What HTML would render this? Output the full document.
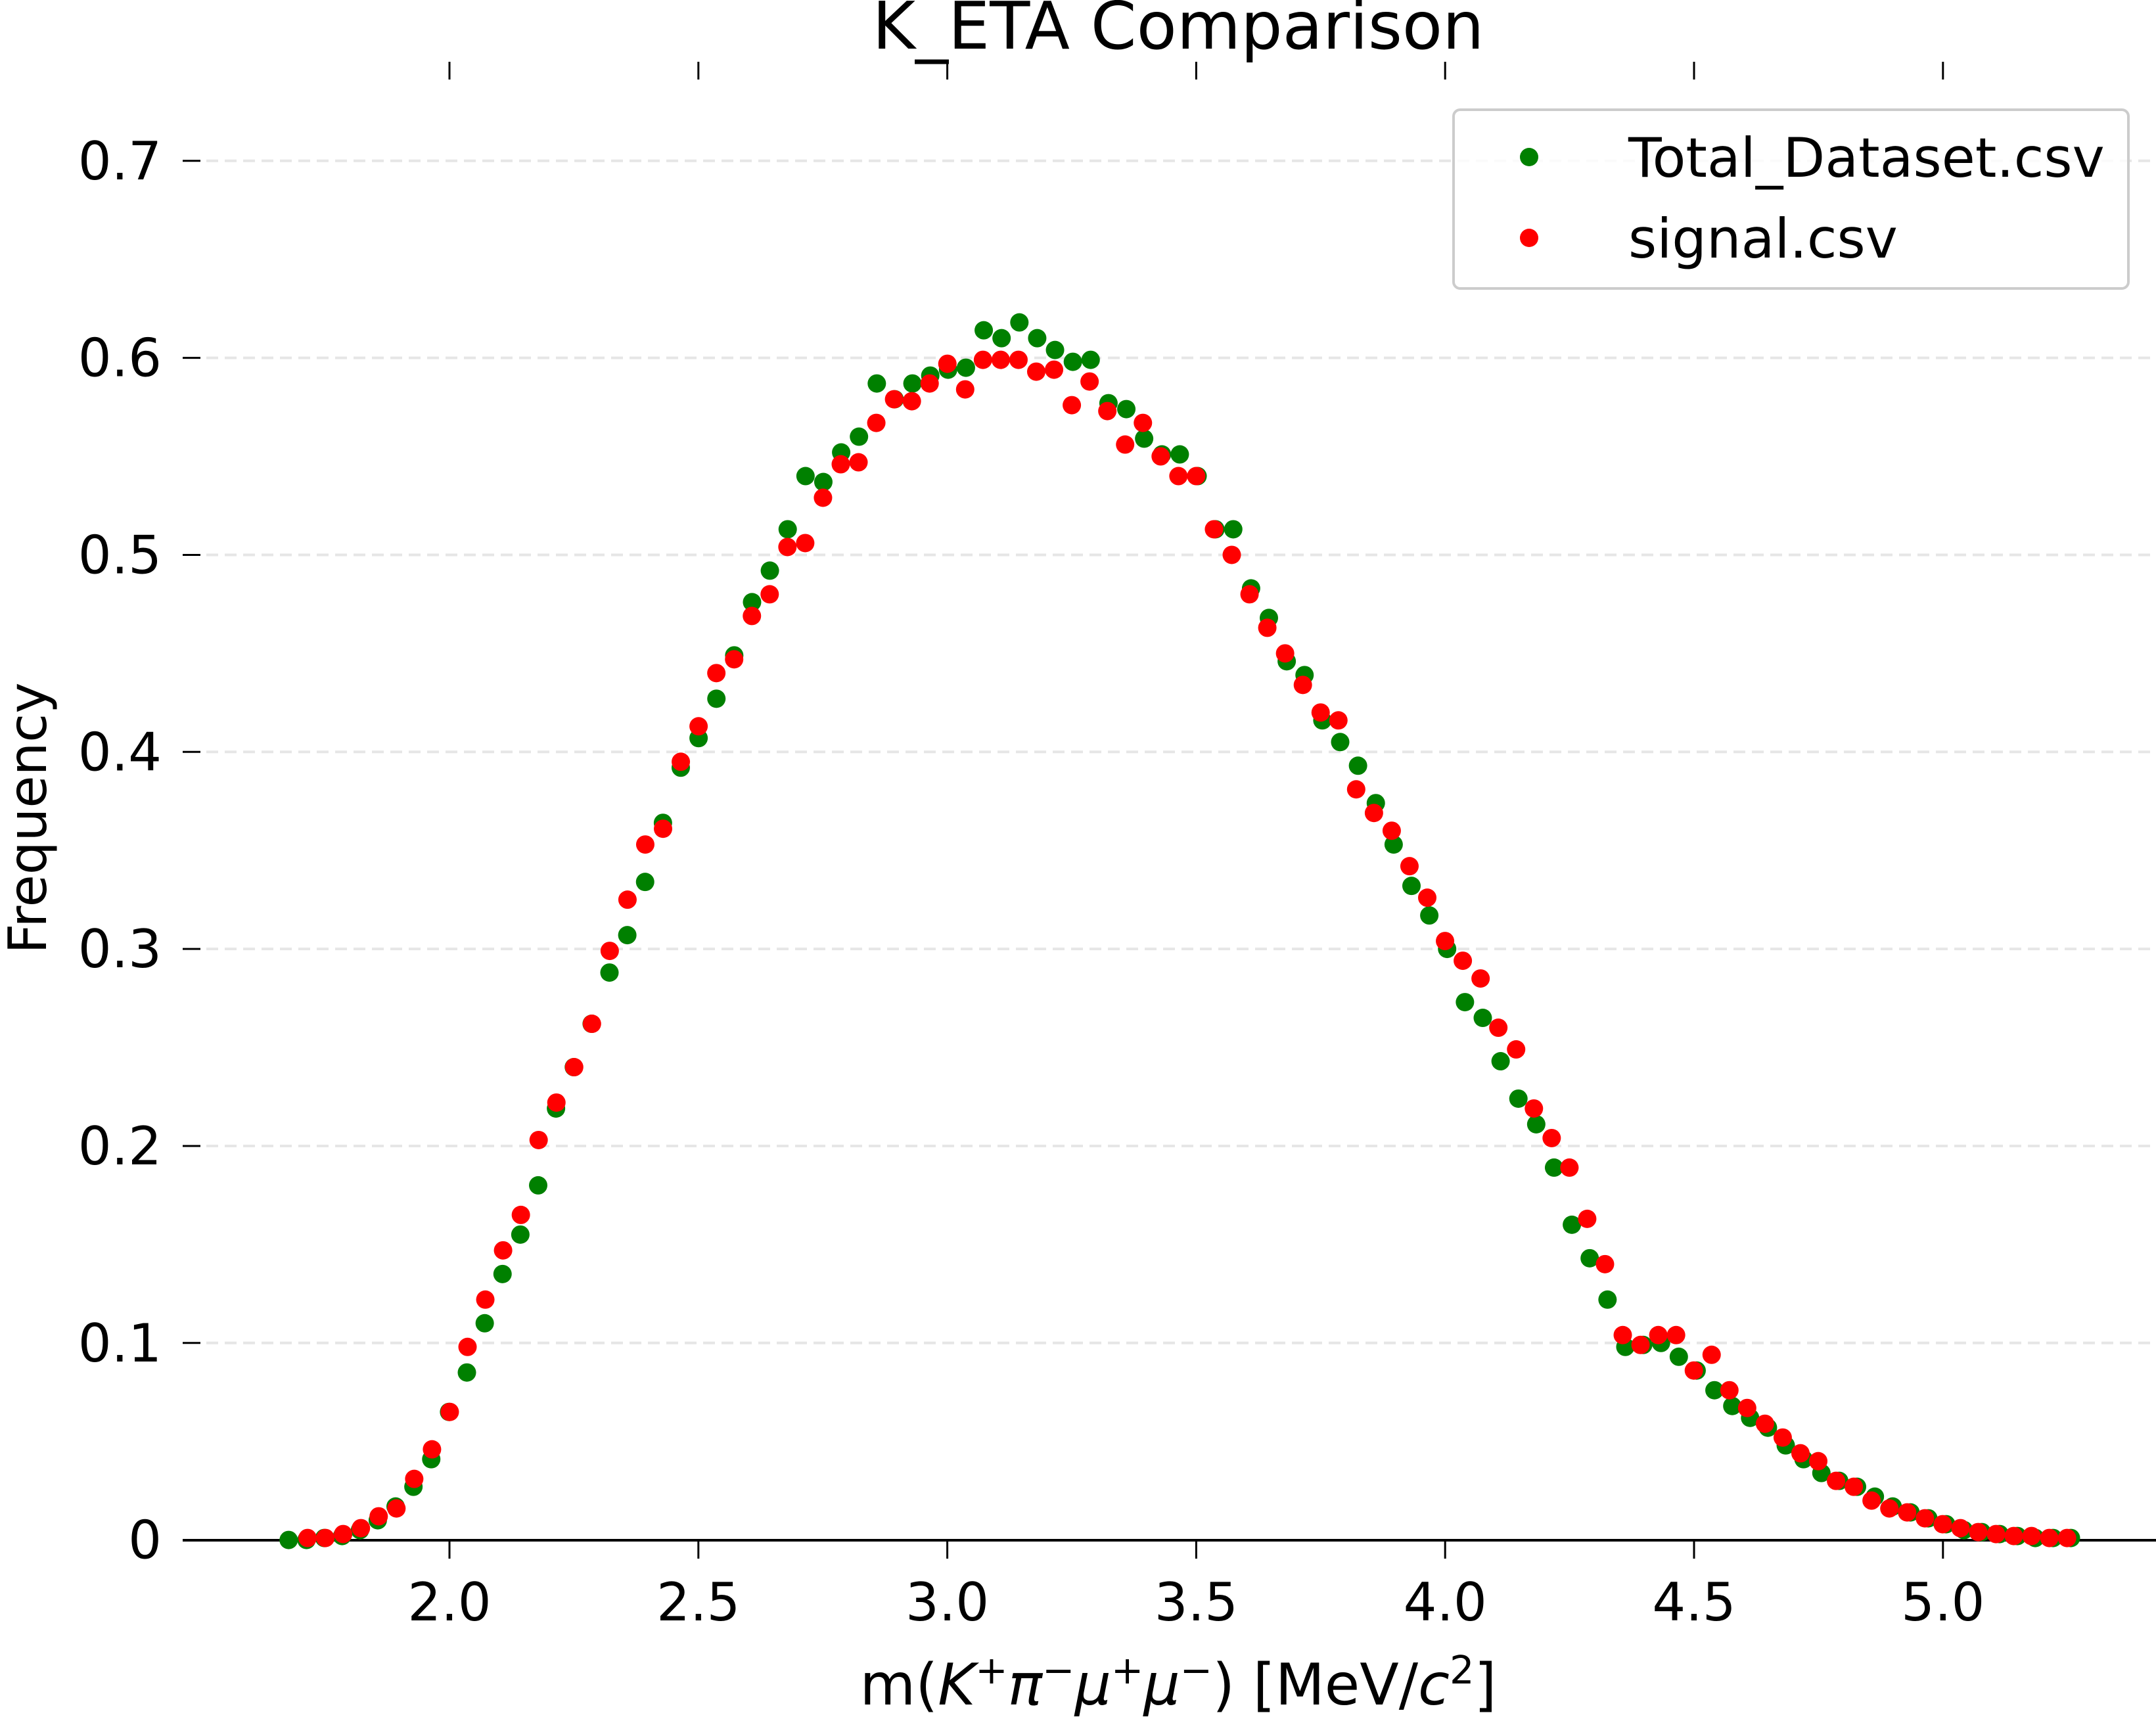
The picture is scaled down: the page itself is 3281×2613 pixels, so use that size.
<!DOCTYPE html>
<html><head><meta charset="utf-8">
<style>
html,body{margin:0;padding:0;background:#fff;}
svg{display:block;font-family:"DejaVu Sans","Liberation Sans",sans-serif;}
</style></head>
<body>
<svg id="chart" width="3281" height="2613" viewBox="0 0 3281 2613" xmlns="http://www.w3.org/2000/svg">
<rect x="0" y="0" width="3281" height="2613" fill="#fff"/>
<g id="grid"></g>
<g id="axes"></g>
<g id="series"></g>
<text x="1793" y="74" font-size="100" text-anchor="middle" fill="#000">K_ETA Comparison</text>
<text x="1793" y="2594" font-size="87" text-anchor="middle" fill="#000">m(<tspan font-style="italic">K</tspan><tspan font-size="59" dy="-32">+</tspan><tspan dy="32" font-style="italic">π</tspan><tspan font-size="59" dy="-32">−</tspan><tspan dy="32" font-style="italic">μ</tspan><tspan font-size="59" dy="-32">+</tspan><tspan dy="32" font-style="italic">μ</tspan><tspan font-size="59" dy="-32">−</tspan><tspan dy="32">) [MeV/</tspan><tspan font-style="italic">c</tspan><tspan font-size="59" dy="-32">2</tspan><tspan dy="32">]</tspan></text>
<text x="0" y="0" font-size="80" text-anchor="middle" fill="#000" transform="translate(70,1245) rotate(-90)">Frequency</text>
<g>
<rect x="2212" y="167" width="1027" height="272" rx="10" fill="#fff" fill-opacity="0.8" stroke="#cccccc" stroke-width="4"/>
<circle cx="2327" cy="239" r="14" fill="green"/>
<text x="2478" y="269" font-size="83" fill="#000">Total_Dataset.csv</text>
<circle cx="2327" cy="362" r="14" fill="red"/>
<text x="2478" y="392" font-size="83" fill="#000">signal.csv</text>
</g>
</svg>
<script>
const xTicks = [2.0, 2.5, 3.0, 3.5, 4.0, 4.5, 5.0];
const xTickLabels = ["2.0","2.5","3.0","3.5","4.0","4.5","5.0"];
const yTicks = [0, 0.1, 0.2, 0.3, 0.4, 0.5, 0.6, 0.7];
const yTickLabels = ["0","0.1","0.2","0.3","0.4","0.5","0.6","0.7"];
const totalStart = 1.677, totalStep = 0.0358;
const signalStart = 1.715, signalStep = 0.0357;
const totalValues = [0.000,0.000,0.001,0.002,0.005,0.010,0.017,0.027,0.041,0.065,0.085,0.110,0.135,0.155,0.180,0.219,0.240,0.262,0.288,0.307,0.334,0.364,0.392,0.407,0.427,0.449,0.476,0.492,0.513,0.540,0.537,0.552,0.560,0.587,0.579,0.587,0.591,0.594,0.595,0.614,0.610,0.618,0.610,0.604,0.598,0.599,0.577,0.574,0.559,0.551,0.551,0.540,0.513,0.513,0.483,0.468,0.446,0.439,0.416,0.405,0.393,0.374,0.353,0.332,0.317,0.300,0.273,0.265,0.243,0.224,0.211,0.189,0.160,0.143,0.122,0.098,0.099,0.100,0.093,0.086,0.076,0.068,0.062,0.057,0.048,0.041,0.034,0.030,0.027,0.022,0.017,0.014,0.011,0.008,0.005,0.004,0.003,0.002,0.001,0.001,0.001];
const signalValues = [0.001,0.001,0.003,0.006,0.012,0.016,0.031,0.046,0.065,0.098,0.122,0.147,0.165,0.203,0.222,0.240,0.262,0.299,0.325,0.353,0.361,0.395,0.413,0.440,0.447,0.469,0.480,0.504,0.506,0.529,0.546,0.547,0.567,0.579,0.578,0.587,0.597,0.584,0.599,0.599,0.599,0.593,0.594,0.576,0.588,0.573,0.556,0.567,0.550,0.540,0.540,0.513,0.500,0.480,0.463,0.450,0.434,0.420,0.416,0.381,0.369,0.360,0.342,0.326,0.304,0.294,0.285,0.260,0.249,0.219,0.204,0.189,0.163,0.140,0.104,0.099,0.104,0.104,0.086,0.094,0.076,0.067,0.059,0.052,0.044,0.040,0.030,0.027,0.020,0.016,0.014,0.011,0.008,0.006,0.004,0.003,0.002,0.002,0.001,0.001];

const NS = "http://www.w3.org/2000/svg";
function xs(v){ return 684 + (v - 2.0) * 757.6; }
function ys(v){ return 2343.6 - v * 2998.3; }
function mk(tag, attrs, parent){
  const e = document.createElementNS(NS, tag);
  for (const k in attrs) e.setAttribute(k, attrs[k]);
  parent.appendChild(e);
  return e;
}
const grid = document.getElementById('grid');
const axes = document.getElementById('axes');
const series = document.getElementById('series');

yTicks.forEach((t, i) => {
  const y = ys(t);
  if (t > 0) {
    const g = mk('line', {x1: 314, x2: 3281, y1: y, y2: y, stroke: '#e6e6e6', 'stroke-width': 4, 'stroke-dasharray': '18,10'}, grid);
    
    
  }
  const tk = mk('line', {x1: 278, x2: 305, y1: y, y2: y, stroke: '#000', 'stroke-width': 3}, axes);
  
  
  const lb = mk('text', {x: 246, y: y + 28, 'font-size': 80, 'text-anchor': 'end', fill: '#000'}, axes);
  lb.textContent = yTickLabels[i];
  
  
});

const spine = mk('line', {x1: 278, x2: 3281, y1: 2344, y2: 2344, stroke: '#000', 'stroke-width': 4}, axes);



xTicks.forEach((t, i) => {
  const x = xs(t);
  const tk = mk('line', {x1: x, x2: x, y1: 2344, y2: 2372, stroke: '#000', 'stroke-width': 3}, axes);
  
  
  const tt = mk('line', {x1: x, x2: x, y1: 94, y2: 121, stroke: '#000', 'stroke-width': 3}, axes);
  
  
  const lb = mk('text', {x: x, y: 2466, 'font-size': 80, 'text-anchor': 'middle', fill: '#000'}, axes);
  lb.textContent = xTickLabels[i];
  
  
});

totalValues.forEach((v, i) => {
  const c = mk('circle', {cx: xs(totalStart + i * totalStep), cy: ys(v), r: 14, fill: 'green'}, series);
  
  
});
signalValues.forEach((v, i) => {
  const c = mk('circle', {cx: xs(signalStart + i * signalStep), cy: ys(v), r: 14, fill: 'red'}, series);
  
  
});
</script>
</body></html>
